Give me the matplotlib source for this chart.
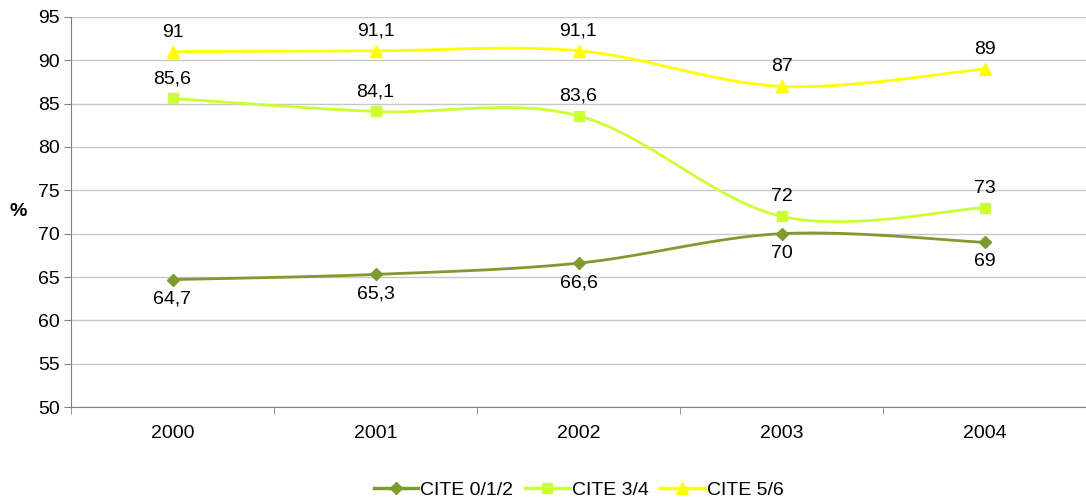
import numpy as np
import matplotlib.pyplot as plt

plt.rcParams['font.family'] = ['Liberation Sans', 'DejaVu Sans']

years = ['2000', '2001', '2002', '2003', '2004']
cite_012 = [64.7, 65.3, 66.6, 70, 69]
cite_34 = [85.6, 84.1, 83.6, 72, 73]
cite_56 = [91, 91.1, 91.1, 87, 89]

series = [
    ('CITE 0/1/2', cite_012, '#7F9A2E', 'D', 6, -1),
    ('CITE 3/4', cite_34, '#CCFF33', 's', 7, 1),
    ('CITE 5/6', cite_56, '#FFFF00', '^', 8, 1),
]


def smooth(x, y, n=30):
    # Excel-style smoothed line: cubic bezier with catmull-rom control points
    x = np.asarray(x, float)
    y = np.asarray(y, float)
    px = np.concatenate([[x[0]], x, [x[-1]]])
    py = np.concatenate([[y[0]], y, [y[-1]]])
    xs, ys = [], []
    t = np.linspace(0, 1, n)
    for i in range(1, len(px) - 2):
        p0 = np.array([px[i], py[i]])
        p3 = np.array([px[i + 1], py[i + 1]])
        c1 = p0 + (np.array([px[i + 1], py[i + 1]]) - np.array([px[i - 1], py[i - 1]])) / 6
        c2 = p3 - (np.array([px[i + 2], py[i + 2]]) - np.array([px[i], py[i]])) / 6
        b = ((1 - t) ** 3)[:, None] * p0 + (3 * (1 - t) ** 2 * t)[:, None] * c1 \
            + (3 * (1 - t) * t ** 2)[:, None] * c2 + (t ** 3)[:, None] * p3
        xs.append(b[:, 0])
        ys.append(b[:, 1])
    return np.concatenate(xs), np.concatenate(ys)


fs = 14
fig = plt.figure(figsize=(10.86, 5), dpi=100)
ax = fig.add_axes([71 / 1086, 93 / 500, 1015 / 1086, 390 / 500])

x = np.arange(len(years))
for name, vals, color, marker, ms, side in series:
    sx, sy = smooth(x, vals)
    ax.plot(sx, sy, color=color, lw=2, zorder=3)
    ax.plot(x, vals, linestyle='none', marker=marker, color=color, ms=ms, zorder=4)
    ax.plot([], [], color=color, lw=2.5, marker=marker, ms=ms, label=name)
    for xi, v in zip(x, vals):
        lbl = ('%g' % v).replace('.', ',')
        ax.annotate(lbl, (xi, v), xytext=(0, 14 * side), textcoords='offset points',
                    ha='center', va='center', fontsize=fs, color='black', zorder=5)

ax.set_ylim(50, 95)
ax.set_yticks(np.arange(50, 96, 5))
ax.set_xlim(-0.5, 4.475)
ax.set_xticks(x)
ax.set_xticklabels(years)
ax.set_xticks(np.arange(-0.5, 4.6, 1), minor=True)
ax.tick_params(axis='x', which='major', length=0, pad=13, labelsize=fs)
ax.tick_params(axis='x', which='minor', length=5, color='#808080', direction='out')
ax.tick_params(axis='y', length=5, color='#808080', labelsize=fs, pad=3)
ax.grid(axis='y', color='#C8C8C8', lw=1)
ax.set_axisbelow(True)
for s in ['top', 'right']:
    ax.spines[s].set_visible(False)
for s in ['left', 'bottom']:
    ax.spines[s].set_color('#808080')

fig.text(18 / 1086, 1 - 212 / 500, '%', fontsize=fs, fontweight='bold', ha='center', va='center')

ax.legend(loc='center', bbox_to_anchor=(0.5, -0.213), ncol=3, frameon=False, fontsize=fs,
          handlelength=2.3, handletextpad=0.1, columnspacing=0.6, borderaxespad=0,
          borderpad=0)

fig.savefig('out.png', dpi=100)
